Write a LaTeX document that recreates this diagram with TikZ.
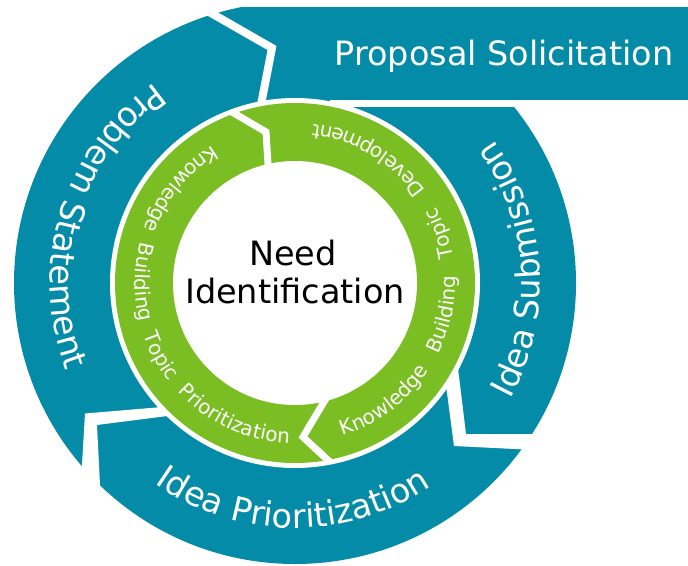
\documentclass[tikz,border=0pt]{standalone}
\usepackage{fontspec}
\setmainfont{DejaVu Sans}
\usetikzlibrary{decorations.text}
\definecolor{tealc}{RGB}{4,139,168}
\definecolor{greenc}{RGB}{122,190,36}
\newcommand\ringfont{\fontsize{33.5}{40}\selectfont\color{white}}
\newcommand\greenfont{\fontsize{20}{24}\selectfont\color{white}}
\begin{document}
\begin{tikzpicture}[x=1pt,y=1pt,
  gapline/.style={draw=white,line width=8pt,line join=miter,line cap=butt},
  ggapline/.style={draw=white,line width=7pt,line join=miter,line cap=butt},
  bigtext/.style={font=\fontsize{33.5}{40}\selectfont,anchor=base,inner sep=0pt}]
\useasboundingbox (0,0) rectangle (688,-565);
\coordinate (C) at (295,-283);
% teal outer ring and proposal box
\fill[tealc] (C) circle[radius=281];
\fill[tealc] (262,-7) rectangle (688,-100);
\fill[white] (242,3) rectangle (690,-7);
\fill[white] (330,-100) rectangle (690,-107);
% junction gaps of the teal ring
\draw[gapline] (205,-9.6) -- (272,-48) -- (259,-115);
\fill[white] (457,-360) -- (466,-434) -- (545,-434) -- (545,-450.5) -- (454,-446) -- (444,-370) -- cycle;
\fill[white] (175,-405.9) -- (85,-413.5) -- (81.4,-475) -- (100.5,-495) -- (97,-425) -- (175,-415) -- cycle;
% gap and green ring
\fill[white] (C) circle[radius=185];
\fill[greenc] (C) circle[radius=180];
\fill[white] (C) circle[radius=122];
\begin{scope}
\clip (C) circle[radius=183];
\draw[ggapline] (215,-102) -- (266,-132) -- (269,-180);
\draw[ggapline] (331,-390) -- (303,-437) -- (345,-476);
\end{scope}
% texts
\node[bigtext,text=white] (prop) at (504,-65) {Proposal Solicitation};
\node[bigtext] (need) at (293,-265) {Need};
\node[bigtext] (ident) at (295,-303) {Identification};
\path[decorate,decoration={text along path,text align=center,text={|\ringfont|Problem Statement}}]
  ([shift={(113:245)}]C) arc[start angle=113,end angle=213,radius=245];
\path[decorate,decoration={text along path,text align=center,text={|\ringfont|Idea Submission}}]
  ([shift={(-46.25:245)}]C) arc[start angle=-46.25,end angle=53.75,radius=245];
\path[decorate,decoration={text along path,text align=center,text={|\ringfont|Idea Prioritization}}]
  ([shift={(219.5:245)}]C) arc[start angle=219.5,end angle=319.5,radius=245];
\path[decorate,decoration={text along path,text align={fit to path stretching spaces},text={|\greenfont|Knowledge Building Topic Prioritization}}]
  ([shift={(121:160)}]C) arc[start angle=121,end angle=268,radius=160];
\path[decorate,decoration={text along path,text align={fit to path stretching spaces},text={|\greenfont|Knowledge Building Topic Development}}]
  ([shift={(-72.6:160)}]C) arc[start angle=-72.6,end angle=83.5,radius=160];
\end{tikzpicture}
\end{document}
